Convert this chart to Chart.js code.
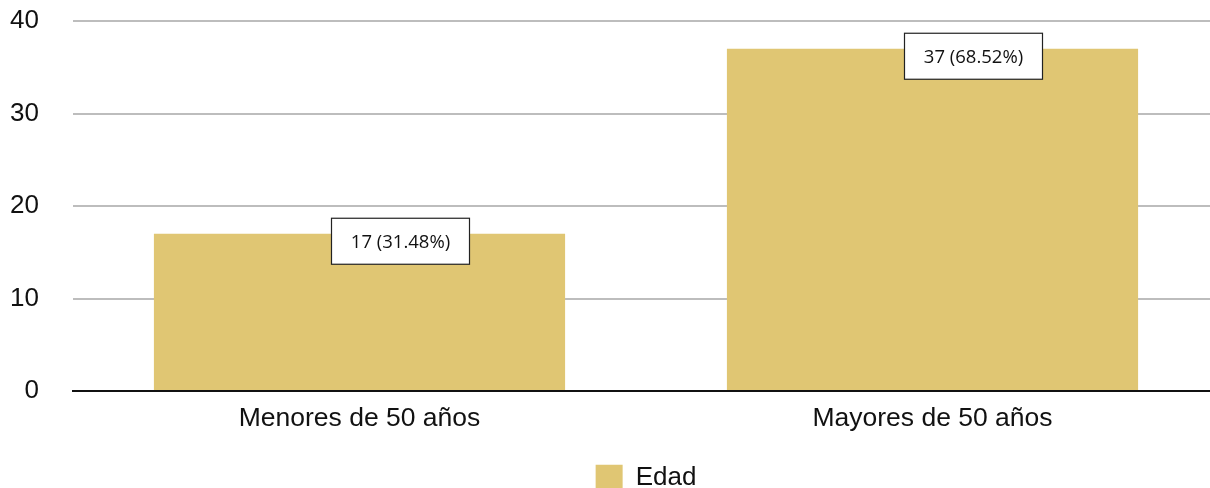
<!DOCTYPE html>
<html>
<head>
<meta charset="utf-8">
<script src="https://cdn.jsdelivr.net/npm/chart.js@4.4.1/dist/chart.umd.min.js"></script>
<style>
  html, body { margin: 0; padding: 0; background: #fff; overflow: hidden; }
  #wrap { width: 1219px; height: 511px; position: relative; }
</style>
</head>
<body>
<div id="wrap"><canvas id="myChart"></canvas></div>
<script>
// datos
const categorias = ['Menores de 50 años', 'Mayores de 50 años'];
const edad = [17, 37];
const porcentajes = ['31.48%', '68.52%'];
const ticksY = [0, 10, 20, 30, 40];

const dorado = '#E0C673';

// etiquetas en caja blanca sobre cada barra
const etiquetas = {
  id: 'etiquetas',
  afterDatasetsDraw(chart) {
    const ctx = chart.ctx;
    const meta = chart.getDatasetMeta(0);
    ctx.save();
    ctx.font = '18.5px "Open Sans"';
    ctx.textAlign = 'center';
    ctx.textBaseline = 'middle';
    meta.data.forEach(function (bar, i) {
      const txt = edad[i] + ' (' + porcentajes[i] + ')';
      const w = 138, h = 46;
      const cx = bar.x + 41;
      const top = bar.y - 15.5;
      ctx.fillStyle = '#fff';
      ctx.fillRect(cx - w / 2, top, w, h);
      ctx.strokeStyle = '#222';
      ctx.lineWidth = 1.2;
      ctx.strokeRect(cx - w / 2, top, w, h);
      ctx.fillStyle = '#111';
      ctx.fillText(txt, cx, top + h / 2 + 1);
    });
    ctx.restore();
  }
};

const chart = new Chart(document.getElementById('myChart'), {
  type: 'bar',
  data: {
    labels: categorias,
    datasets: [{
      label: 'Edad',
      data: edad,
      backgroundColor: dorado,
      borderWidth: 0,
      categoryPercentage: 0.8,
      barPercentage: 0.897
    }]
  },
  options: {
    responsive: true,
    maintainAspectRatio: false,
    animation: false,
    layout: { padding: { top: 21, bottom: 0, left: 0, right: 0 } },
    plugins: {
      tooltip: { enabled: false },
      legend: {
        position: 'bottom',
        fullSize: false,
        labels: {
          boxWidth: 27,
          boxHeight: 27,
          padding: 8,
          color: '#111',
          font: { family: 'Liberation Sans', size: 26 }
        }
      }
    },
    scales: {
      x: {
        afterFit(scale) { scale.height += 10; },
        grid: { display: false, drawTicks: false },
        border: { display: true, color: '#111', width: 2 },
        ticks: {
          color: '#111',
          padding: 12,
          font: { family: 'Liberation Sans', size: 26.5 }
        }
      },
      y: {
        min: 0,
        max: 40,
        afterFit(scale) {
          scale.width = 73;
          scale.paddingTop = 0;
          scale.paddingBottom = 0;
        },
        afterBuildTicks(scale) { scale.ticks = ticksY.map(v => ({ value: v })); },
        border: { display: false },
        grid: {
          drawTicks: false,
          color: ctx => ctx.tick && ctx.tick.value === 0 ? 'rgba(0,0,0,0)' : '#BDBDBD',
          lineWidth: 2
        },
        ticks: {
          color: '#111',
          padding: 34,
          font: { family: 'Liberation Sans', size: 26 }
        }
      }
    }
  },
  plugins: [etiquetas]
});

// ajustar el area del grafico: 40 en y=21, 0 en y=391
const area = chart.chartArea;
chart.options.layout.padding.top += 21 - area.top;
chart.options.layout.padding.bottom += area.bottom - 391;
chart.update();
</script>
</body>
</html>
